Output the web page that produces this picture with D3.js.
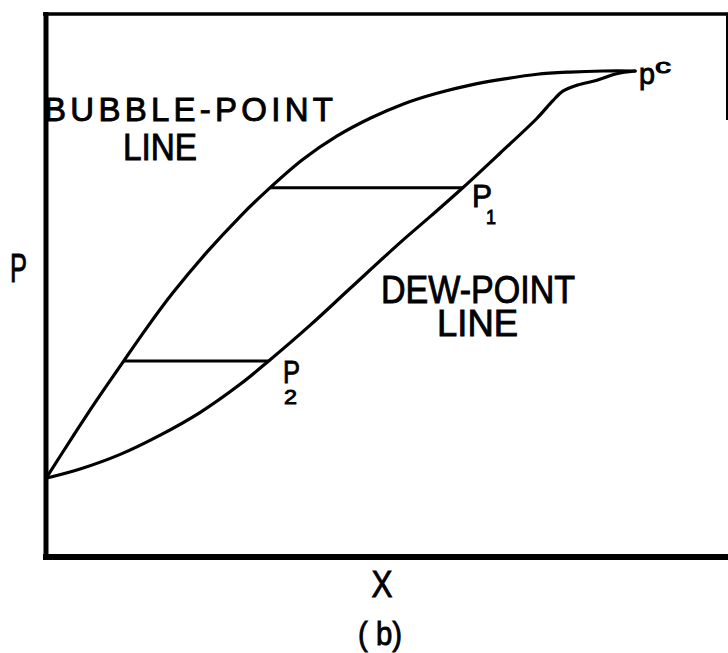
<!DOCTYPE html>
<html>
<head>
<meta charset="utf-8">
<script src="https://cdn.jsdelivr.net/npm/d3@7/dist/d3.min.js"></script>
<style>
  html, body { margin: 0; padding: 0; background: #fff; }
  svg { display: block; }
  text { font-family: "Liberation Sans", Arial, sans-serif; fill: #000; stroke: #000; stroke-width: 0.9; }
</style>
</head>
<body>
<svg id="chart" width="728" height="653"></svg>
<script>
// Composition X (0-100) against pressure P (0-100), two-phase envelope
const bubbleX = [0, 4.0, 7.3, 11.2, 14.8, 18.6, 23.6, 28.5, 32.2, 37.7, 42.7, 47.6, 52.4, 57.4, 62.3, 67.1, 72.1, 76.9, 81.8, 86.5];
const bubbleP = [14.5, 22.3, 28.6, 35.7, 42.2, 48.6, 56.1, 62.7, 67.2, 73.2, 77.5, 80.8, 83.4, 85.4, 86.9, 88.0, 88.9, 89.3, 89.5, 89.5];

const dewX = [0, 5.0, 10.9, 16.7, 22.6, 28.5, 32.7, 38.8, 44.6, 52.0, 56.7, 61.2, 66.7, 72.1, 74.4, 75.9, 78.0, 80.9, 83.8, 86.5];
const dewP = [14.5, 16.2, 18.9, 22.4, 26.6, 31.8, 36.1, 42.7, 49.4, 57.9, 63.0, 68.0, 74.4, 80.8, 84.0, 85.8, 86.9, 87.8, 89.0, 89.5];

// Tie lines joining coexisting liquid and vapour at constant pressure
const tieP = [68.0, 36.1];
const tieX0 = [32.9, 11.4];
const tieX1 = [61.2, 32.7];

const svg = d3.select("#chart");

const x = d3.scaleLinear().domain([0, 100]).range([46, 727]);
const y = d3.scaleLinear().domain([0, 100]).range([557, 14]);

const line = d3.line()
  .x(d => x(d[0]))
  .y(d => y(d[1]))
  .curve(d3.curveCatmullRom.alpha(0.5));

const bubble = bubbleX.map((v, i) => [v, bubbleP[i]]);
const dew = dewX.map((v, i) => [v, dewP[i]]);

// A label made of one or more positioned runs: [text, x, y, size, length, adjust]
function label(runs, anchor) {
  const t = svg.append("text").attr("text-anchor", anchor || "start");
  runs.forEach(([txt, px, py, size, len, adjust]) => {
    const s = t.append("tspan")
      .attr("x", px).attr("y", py)
      .attr("font-size", size)
      .text(txt);
    if (len) s.attr("textLength", len).attr("lengthAdjust", adjust || "spacingAndGlyphs");
  });
  return t;
}

// Labels go down first so the frame sits over the clipped first letter
label([["BUBBLE-POINT", 44, 121, 33, 289, "spacing"], ["LINE", 123, 160, 36, 74]]);
label([["DEW-POINT", 381, 303, 38, 194], ["LINE", 437, 336, 37, 81]]);

// point labels
label([["P", 472, 207, 32, 20], ["1", 486, 224, 21, 10]]);
label([["P", 283, 383, 32, 17], ["2", 284, 404, 20, 13]]);
label([["p", 639, 84, 30, 16], ["c", 655, 73, 20, 16]]);

// axis titles
label([["P", 10, 282, 40, 17]]);
label([["X", 382, 597, 37, 21]], "middle");
label([["( b)", 380, 645, 34, 44]], "middle");

// phase-boundary curves
[bubble, dew].forEach(pts => {
  svg.append("path")
    .datum(pts)
    .attr("d", line)
    .attr("fill", "none")
    .attr("stroke", "#000")
    .attr("stroke-width", 3.2)
    .attr("stroke-linecap", "round")
    .attr("stroke-linejoin", "round");
});

svg.selectAll("line.tie")
  .data(tieP)
  .enter().append("line")
  .attr("class", "tie")
  .attr("x1", (d, i) => x(tieX0[i]))
  .attr("x2", (d, i) => x(tieX1[i]))
  .attr("y1", d => y(d))
  .attr("y2", d => y(d))
  .attr("stroke", "#000")
  .attr("stroke-width", 3.2);

// frame
const [xl, xr] = x.range();
const [yb, yt] = y.range();
svg.append("line").attr("x1", xl - 3).attr("x2", 728).attr("y1", yt).attr("y2", yt)
  .attr("stroke", "#000").attr("stroke-width", 3.5);
svg.append("line").attr("x1", xl - 3).attr("x2", 728).attr("y1", yb).attr("y2", yb)
  .attr("stroke", "#000").attr("stroke-width", 6);
svg.append("line").attr("x1", xl).attr("x2", xl).attr("y1", yt - 2).attr("y2", yb + 3)
  .attr("stroke", "#000").attr("stroke-width", 5);
svg.append("line").attr("x1", xr).attr("x2", xr).attr("y1", yt).attr("y2", y(80.5))
  .attr("stroke", "#000").attr("stroke-width", 2);
</script>
</body>
</html>
